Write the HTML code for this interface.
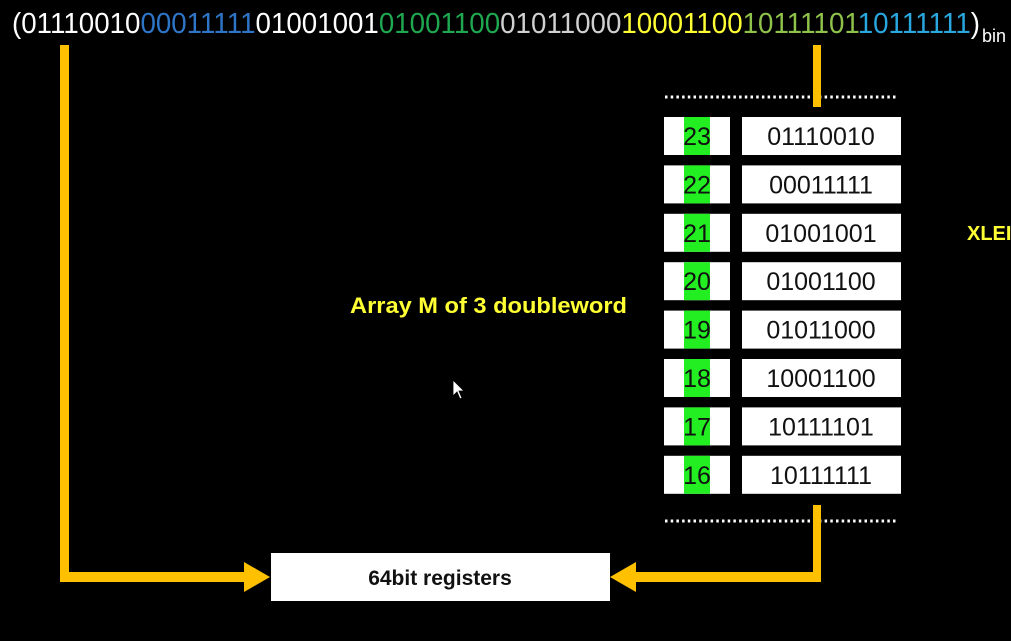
<!DOCTYPE html>
<html><head><meta charset="utf-8"><style>
html,body{margin:0;padding:0;background:#000;width:1011px;height:641px;overflow:hidden}
svg{display:block}
</style></head><body>
<svg width="1011" height="641" viewBox="0 0 1011 641" xmlns="http://www.w3.org/2000/svg" font-family="Liberation Sans, sans-serif">
<rect width="1011" height="641" fill="#000"/>
<text x="12" y="33" font-size="29" textLength="968" lengthAdjust="spacingAndGlyphs" fill="#fff">(01110010<tspan fill="#2e75c8">00011111</tspan>01001001<tspan fill="#1fa84f">01001100</tspan><tspan fill="#d0d0d0">01011000</tspan><tspan fill="#ffff33">10001100</tspan><tspan fill="#8fc24a">10111101</tspan><tspan fill="#29a8e0">10111111</tspan>)</text>
<text x="982" y="42" font-size="18" fill="#fff">bin</text>
<g fill="#ffc000">
<rect x="60" y="45" width="9" height="537"/>
<rect x="60" y="572" width="190" height="10"/>
<polygon points="244,562 270,577 244,592"/>
<rect x="813" y="45" width="8" height="62"/>
<rect x="813" y="505" width="8" height="77"/>
<rect x="630" y="572" width="191" height="10"/>
<polygon points="636,562 610,577 636,592"/>
</g>
<line x1="665" y1="97" x2="898" y2="97" stroke="#fff" stroke-width="3" stroke-dasharray="2.5,3.2"/>
<line x1="665" y1="521" x2="898" y2="521" stroke="#fff" stroke-width="3" stroke-dasharray="2.5,3.2"/>
<rect x="813" y="90" width="8" height="17" fill="#ffc000"/>
<rect x="813" y="505" width="8" height="20" fill="#ffc000"/>
<g font-size="25" text-anchor="middle" fill="#111">
<g transform="translate(0,117)"><rect x="664" width="66" height="38" fill="#fff"/><rect x="684" width="26" height="38" fill="#22ee22"/><text x="697" y="28">23</text><rect x="742" width="159" height="38" fill="#fff"/><text x="821" y="28">01110010</text></g>
<g transform="translate(0,165.4)"><rect x="664" width="66" height="38" fill="#fff"/><rect x="684" width="26" height="38" fill="#22ee22"/><text x="697" y="28">22</text><rect x="742" width="159" height="38" fill="#fff"/><text x="821" y="28">00011111</text></g>
<g transform="translate(0,213.8)"><rect x="664" width="66" height="38" fill="#fff"/><rect x="684" width="26" height="38" fill="#22ee22"/><text x="697" y="28">21</text><rect x="742" width="159" height="38" fill="#fff"/><text x="821" y="28">01001001</text></g>
<g transform="translate(0,262.2)"><rect x="664" width="66" height="38" fill="#fff"/><rect x="684" width="26" height="38" fill="#22ee22"/><text x="697" y="28">20</text><rect x="742" width="159" height="38" fill="#fff"/><text x="821" y="28">01001100</text></g>
<g transform="translate(0,310.6)"><rect x="664" width="66" height="38" fill="#fff"/><rect x="684" width="26" height="38" fill="#22ee22"/><text x="697" y="28">19</text><rect x="742" width="159" height="38" fill="#fff"/><text x="821" y="28">01011000</text></g>
<g transform="translate(0,359)"><rect x="664" width="66" height="38" fill="#fff"/><rect x="684" width="26" height="38" fill="#22ee22"/><text x="697" y="28">18</text><rect x="742" width="159" height="38" fill="#fff"/><text x="821" y="28">10001100</text></g>
<g transform="translate(0,407.4)"><rect x="664" width="66" height="38" fill="#fff"/><rect x="684" width="26" height="38" fill="#22ee22"/><text x="697" y="28">17</text><rect x="742" width="159" height="38" fill="#fff"/><text x="821" y="28">10111101</text></g>
<g transform="translate(0,455.8)"><rect x="664" width="66" height="38" fill="#fff"/><rect x="684" width="26" height="38" fill="#22ee22"/><text x="697" y="28">16</text><rect x="742" width="159" height="38" fill="#fff"/><text x="821" y="28">10111111</text></g>
</g>
<text x="350" y="313" font-size="22" font-weight="bold" fill="#ffff33" textLength="277" lengthAdjust="spacingAndGlyphs">Array M of 3 doubleword</text>
<text x="967" y="240" font-size="20" font-weight="bold" fill="#ffff33">XLEI</text>
<rect x="271" y="553" width="339" height="48" fill="#fff"/>
<text x="440" y="585" font-size="21" font-weight="bold" fill="#111" text-anchor="middle">64bit registers</text>
<polygon points="453,380 453,396 457,392 460,399 462,398 459,391 464,391" fill="#fff" stroke="#000" stroke-width="0.8"/>
</svg>
</body></html>
